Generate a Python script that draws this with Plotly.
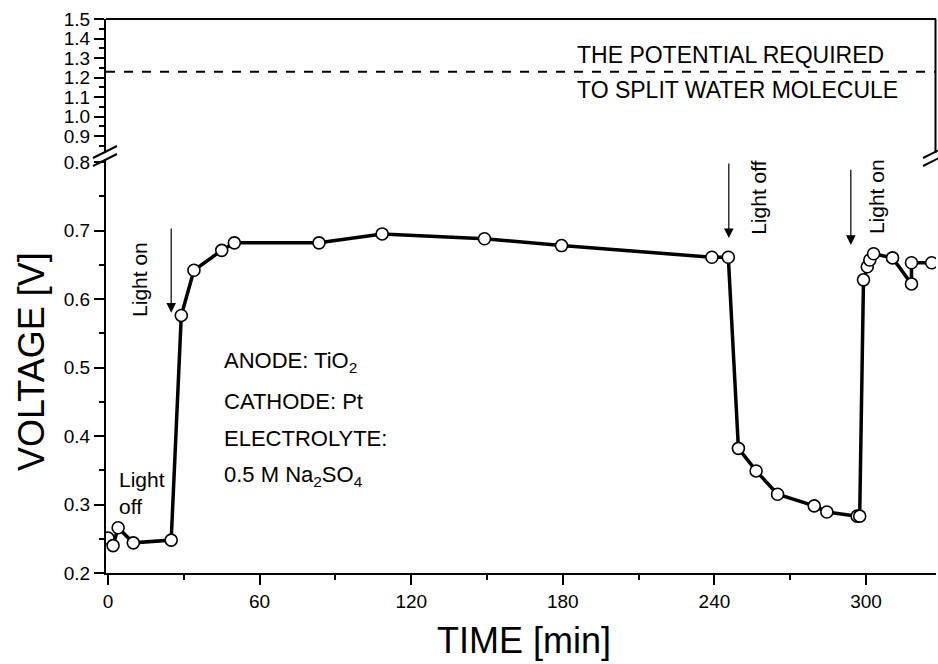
import plotly.graph_objects as go

# ---------------- data ----------------
time_min = [0, 2, 4, 10, 25, 29, 34, 45, 50, 83.5, 108.5, 149, 179.5,
            239, 245.5, 249.5, 256.5, 265, 279.5, 284.5, 296.5, 297.5,
            299, 300.5, 301.5, 303, 310.5, 318, 318, 326]
voltage_v = [0.251, 0.240, 0.266, 0.244, 0.248, 0.576, 0.642, 0.671, 0.682,
             0.682, 0.695, 0.688, 0.678, 0.661, 0.661, 0.382, 0.349, 0.315,
             0.298, 0.289, 0.283, 0.283, 0.628, 0.647, 0.657, 0.666, 0.660,
             0.622, 0.653, 0.653]
water_split_v = 1.23
x_ticks = [0, 60, 120, 180, 240, 300]
y_ticks_low = [0.2, 0.3, 0.4, 0.5, 0.6, 0.7, 0.8]
y_ticks_high = [0.9, 1.0, 1.1, 1.2, 1.3, 1.4, 1.5]
info_lines = ["ANODE: TiO<sub>2</sub>", "CATHODE: Pt", "ELECTROLYTE:",
              "0.5 M Na<sub>2</sub>SO<sub>4</sub>"]
info_y = [0.508, 0.451, 0.397, 0.342]

# ---------------- layout geometry ----------------
W, H = 938, 664
L, R, T, B = 106, 2, 19, 91
PW, PH = W - L - R, H - T - B
X_RANGE = [-0.8, 327.7]
LOW_TOP_PX, HIGH_BOT_PX = 159, 153


def px(xp):
    return (xp - L) / PW


def py(yp):
    return (H - B - yp) / PH


low_dom = [0, py(LOW_TOP_PX)]
high_dom = [py(HIGH_BOT_PX), 1]
low_top_val = 0.2 + (H - B - LOW_TOP_PX) / 685.0
high_bot_val = 1.5 - (HIGH_BOT_PX - T) / 195.0

FONT = "Arial, Liberation Sans, Helvetica, sans-serif"

fig = go.Figure()
fig.add_trace(go.Scatter(
    x=time_min, y=voltage_v, mode="lines+markers",
    line=dict(color="black", width=3.5),
    marker=dict(symbol="circle", size=12, color="white",
                line=dict(color="black", width=1.6)),
    xaxis="x", yaxis="y", showlegend=False))
fig.add_trace(go.Scatter(
    x=[X_RANGE[0], X_RANGE[1]], y=[water_split_v, water_split_v],
    mode="lines", line=dict(color="black", width=2, dash="dash"),
    xaxis="x", yaxis="y2", showlegend=False))

axis_common = dict(showline=True, linecolor="black", linewidth=2,
                   ticks="outside", tickcolor="black", tickwidth=1.5,
                   ticklen=10, showgrid=False, zeroline=False,
                   tickfont=dict(family=FONT, size=19, color="black"))

fig.update_layout(
    width=W, height=H,
    margin=dict(l=L, r=R, t=T, b=B),
    paper_bgcolor="white", plot_bgcolor="white",
    font=dict(family=FONT, color="black"),
    xaxis=dict(range=X_RANGE, tickvals=x_ticks, anchor="y",
               minor=dict(dtick=30, tick0=0, ticklen=5, tickwidth=1.5,
                          tickcolor="black", ticks="outside"),
               **axis_common),
    yaxis=dict(domain=low_dom, range=[0.2, low_top_val], anchor="x",
               tickvals=y_ticks_low, ticktext=[f"{v:.1f}" for v in y_ticks_low],
               minor=dict(dtick=0.05, tick0=0.2, ticklen=5, tickwidth=1.5,
                          tickcolor="black", ticks="outside"),
               **axis_common),
    yaxis2=dict(domain=high_dom, range=[high_bot_val, 1.5], anchor="x",
                tickvals=y_ticks_high,
                ticktext=[f"{v:.1f}" for v in y_ticks_high],
                minor=dict(dtick=0.05, tick0=0.8, ticklen=5, tickwidth=1.5,
                           tickcolor="black", ticks="outside"),
                **axis_common),
)

C = dict(xanchor="center", yanchor="middle", showarrow=False)
ann = []
# axis titles
ann.append(dict(text="TIME [min]", xref="paper", yref="paper",
                x=px(524), y=py(640), font=dict(size=36, family=FONT), **C))
ann.append(dict(text="VOLTAGE [V]", xref="paper", yref="paper",
                x=px(31), y=py(362), textangle=-90,
                font=dict(size=36, family=FONT), **C))
# info block
for txt, yv in zip(info_lines, info_y):
    ann.append(dict(text=txt, x=45.1, y=yv, xref="x", yref="y",
                    xanchor="left", yanchor="middle", showarrow=False,
                    font=dict(size=22, family=FONT)))
# light labels
ann.append(dict(text="Light<br>off", x=3.6, y=0.317, xref="x", yref="y",
                xanchor="left", yanchor="middle", align="left",
                showarrow=False, font=dict(size=21, family=FONT)))
for txt, xv, yv in [("Light on", 12.7, 0.628), ("Light off", 257.6, 0.749),
                    ("Light on", 303.9, 0.750)]:
    ann.append(dict(text=txt, x=xv, y=yv, xref="x", yref="y",
                    textangle=-90, font=dict(size=21, family=FONT), **C))
# arrows
for xv, y_tip, y_tail in [(25, 0.58, 0.705), (245.7, 0.689, 0.80),
                          (294, 0.679, 0.791)]:
    ann.append(dict(x=xv, y=y_tip, ax=xv, ay=y_tail, xref="x", yref="y",
                    axref="x", ayref="y", text="", showarrow=True,
                    arrowhead=2, arrowsize=1.6, arrowwidth=1.2,
                    arrowcolor="black"))
# water-splitting labels
ann.append(dict(text="THE POTENTIAL REQUIRED", x=184.8, y=1.315,
                xref="x", yref="y2", xanchor="left", yanchor="middle",
                showarrow=False, font=dict(size=23, family=FONT)))
ann.append(dict(text="TO SPLIT WATER MOLECULE", x=184.8, y=1.136,
                xref="x", yref="y2", xanchor="left", yanchor="middle",
                showarrow=False, font=dict(size=23, family=FONT)))
fig.update_layout(annotations=ann)

shapes = []
# top border and right border of upper panel
shapes.append(dict(type="line", xref="paper", yref="paper",
                   x0=0, x1=1, y0=1, y1=1,
                   line=dict(color="black", width=2)))
shapes.append(dict(type="line", xref="paper", yref="paper",
                   x0=px(935.5), x1=px(935.5), y0=high_dom[0], y1=1,
                   line=dict(color="black", width=2)))
# axis break marks
for xc in (105, 935):
    for yc in (152, 160):
        shapes.append(dict(type="line", xref="paper", yref="paper",
                           x0=px(xc - 12), y0=py(yc + 6),
                           x1=px(xc + 12), y1=py(yc - 6),
                           line=dict(color="black", width=2)))
fig.update_layout(shapes=shapes)

fig.write_html("out.html",
               config={"displayModeBar": False},
               post_script="document.body.style.margin='0px';"
                           "document.body.style.overflow='hidden';")
